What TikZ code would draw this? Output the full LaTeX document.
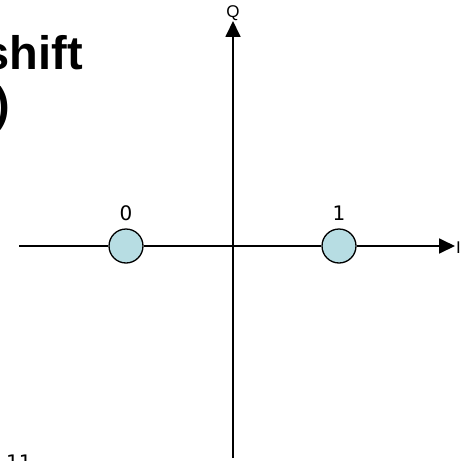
\documentclass[tikz,border=0pt]{standalone}
\usepackage{fontspec}
\setmainfont{Liberation Sans}
\newfontfamily\dvs{DejaVu Sans}
\usetikzlibrary{arrows.meta}
\definecolor{dotblue}{RGB}{183,221,227}
\begin{document}
\begin{tikzpicture}[x=1pt,y=-1pt,
  axis/.style={line width=1.8pt},
  tip/.style={-{Triangle[length=16pt,width=15pt]}},
  dot/.style={circle, draw, line width=1.3pt, fill=dotblue, minimum size=34pt, inner sep=0pt},
  lab/.style={font=\dvs\fontsize{20}{24}\selectfont, inner sep=0pt, anchor=base},
  axlab/.style={font=\fontsize{17}{20}\selectfont, inner sep=0pt, anchor=base},
  title/.style={font=\bfseries\fontsize{47}{54}\selectfont, inner sep=0pt, anchor=base east}]
\useasboundingbox (0,0) rectangle (465,460);
\clip (0,0) rectangle (465,460);
% title fragments
\node[title] (t1) at (83,70) {shift};
\node[title] (t2) at (10,120) {)};
\node[font=\dvs\fontsize{20}{24}\selectfont, inner sep=0pt, anchor=base west] (num) at (6,469) {11};
% axes
\coordinate (L) at (19,246);
\coordinate (R) at (455,246);
\coordinate (B) at (233,458);
\coordinate (T) at (233,21);
\draw[axis,tip] (B) -- (T);
\node[dot] (c0) at (126,246) {};
\node[dot] (c1) at (339,246) {};
\draw[axis] (L) -- (c0);
\draw[axis] (c0) -- (c1);
\draw[axis,tip] (c1) -- (R);
% labels
\node[lab] (l0) at (126,220) {0};
\node[lab] (l1) at (339,220) {1};
\node[axlab] (q) at (233,18) {Q};
\node[axlab, anchor=base west] (i) at (456,253) {I};
\end{tikzpicture}
\end{document}
